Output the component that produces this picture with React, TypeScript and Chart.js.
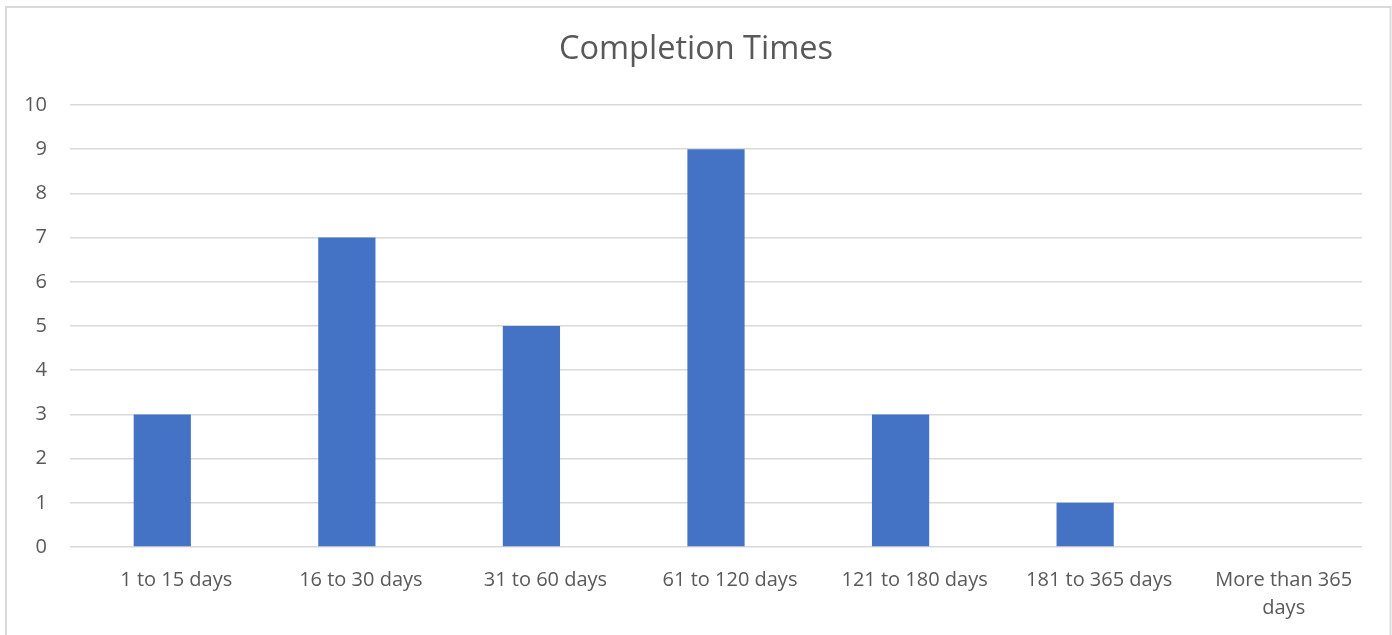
import React, { useEffect, useRef } from "react";
import { Chart, registerables } from "chart.js";

Chart.register(...registerables);

const categories: (string | string[])[] = [
  "1 to 15 days",
  "16 to 30 days",
  "31 to 60 days",
  "61 to 120 days",
  "121 to 180 days",
  "181 to 365 days",
  ["More than 365", "days"],
];
const counts: number[] = [3, 7, 5, 9, 3, 1, 0];
const yTicks: number[] = [0, 1, 2, 3, 4, 5, 6, 7, 8, 9, 10];
const titleText = "Completion Times";

const FONT = "'Open Sans', Lato, sans-serif";
const TEXT = "#595959";

const framePlugin = {
  id: "frameAndTitle",
  beforeDraw(chart: any) {
    const ctx = chart.ctx;
    ctx.save();
    ctx.fillStyle = "#ffffff";
    ctx.fillRect(0, 0, chart.width, chart.height);
    ctx.strokeStyle = "#d9d9d9";
    ctx.lineWidth = 2;
    ctx.beginPath();
    ctx.moveTo(6, chart.height + 5);
    ctx.lineTo(6, 7);
    ctx.lineTo(chart.width - 1.5, 7);
    ctx.lineTo(chart.width - 1.5, chart.height + 5);
    ctx.stroke();
    ctx.restore();
  },
  afterDraw(chart: any) {
    const ctx = chart.ctx;
    ctx.save();
    ctx.fillStyle = TEXT;
    ctx.font = `normal 32.5px ${FONT}`;
    ctx.textAlign = "center";
    ctx.textBaseline = "middle";
    ctx.fillText(titleText, chart.width / 2, 50);
    ctx.restore();
  },
};

export default function App() {
  const ref = useRef<HTMLCanvasElement | null>(null);
  useEffect(() => {
    if (!ref.current) return;
    const chart = new Chart(ref.current, {
      type: "bar",
      data: {
        labels: categories,
        datasets: [
          {
            data: counts,
            backgroundColor: "#4472C4",
            borderWidth: 0,
            categoryPercentage: 1,
            barPercentage: 0.31,
          },
        ],
      },
      options: {
        animation: false,
        responsive: false,
        devicePixelRatio: 1,
        layout: { padding: { left: 0, right: 30, top: 105, bottom: 0 } },
        plugins: {
          legend: { display: false },
          tooltip: { enabled: false },
          title: { display: false },
        },
        scales: {
          x: {
            grid: { display: false, drawTicks: false },
            border: { display: false },
            ticks: {
              color: TEXT,
              font: { family: FONT, size: 20, lineHeight: 1.4 },
              padding: 19,
              labelOffset: 14,
              maxRotation: 0,
              autoSkip: false,
            },
            afterFit(scale: any) {
              scale.height = 88;
            },
          },
          y: {
            min: 0,
            max: 10,
            afterBuildTicks(scale: any) {
              scale.ticks = yTicks.map((v) => ({ value: v }));
            },
            grid: { color: "#d9d9d9", lineWidth: 1.5, drawTicks: false },
            border: { display: false },
            ticks: {
              color: TEXT,
              font: { family: FONT, size: 20 },
              padding: 23,
            },
            afterFit(scale: any) {
              scale.width = 70;
            },
          },
        },
      },
      plugins: [framePlugin],
    });
    return () => chart.destroy();
  }, []);
  return (
    <div style={{ position: "absolute", left: 0, top: 0, width: 1392, height: 635 }}>
      <canvas ref={ref} width={1392} height={635} style={{ width: 1392, height: 635 }} />
    </div>
  );
}
